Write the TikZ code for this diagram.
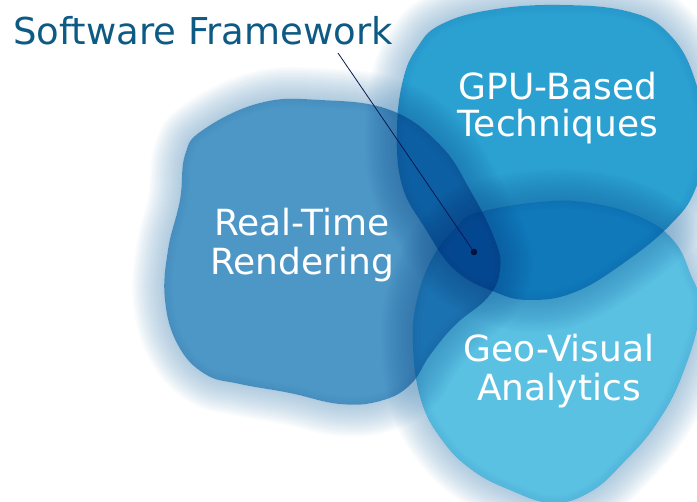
\documentclass[tikz,border=0pt]{standalone}
\usepackage{fontspec}
\setmainfont{DejaVu Sans}
\definecolor{rtcol}{RGB}{77,151,198}
\definecolor{gpucol}{RGB}{43,161,210}
\definecolor{geocol}{RGB}{91,193,227}
\definecolor{glowcol}{RGB}{95,150,190}
\definecolor{titlecol}{RGB}{13,90,133}
\definecolor{leadcol}{RGB}{10,25,80}
\tikzset{
  rtpath/.style={insert path={plot[smooth cycle,tension=0.7] coordinates {
    (203,130) (260,103) (320,100) (390,110) (440,145) (470,190) (495,240)
    (500,270) (488,297) (455,325) (430,355) (410,385) (380,401) (340,404)
    (290,393) (240,384) (205,374) (178,345) (165,300) (168,250) (180,200)
    (185,155)}}},
  gpupath/.style={insert path={plot[smooth cycle,tension=0.7] coordinates {
    (440,25) (490,10) (560,5) (630,12) (670,35) (695,80) (705,140) (695,190)
    (670,225) (625,262) (575,292) (530,300) (495,292) (455,270) (425,228)
    (402,185) (397,130) (403,80) (417,48)}}},
  geopath/.style={insert path={plot[smooth cycle,tension=0.7] coordinates {
    (477,213) (540,202) (590,203) (640,217) (673,240) (690,273) (700,310)
    (683,373) (657,423) (623,463) (590,492) (552,503) (510,490) (472,470)
    (442,440) (421,400) (413,345) (417,300) (433,257) (457,227)}}},
  % a large frame wound against the regions, so that clipping keeps the outside
  outside/.style={insert path={(-300,-300) -- (-300,900) -- (1100,900)
    -- (1100,-300) -- cycle}},
  glow/.style={draw=glowcol, line width=#1, opacity=0.038, line join=round},
  rim/.style={draw=glowcol, line width=#1, opacity=0.03, line join=round},
  blob/.style={fill=#1, blend mode=multiply},
  label/.style={text=white, align=center, inner sep=0pt,
    font=\fontsize{36}{39}\selectfont},
}
\begin{document}
\begin{tikzpicture}[x=1pt,y=-1pt]
\useasboundingbox (0,0) rectangle (697,502);
% soft halo outside each region, faint rim just inside it
\foreach \shape in {rtpath,gpupath,geopath} {
  \begin{scope}
    \path[clip, outside, \shape];
    \foreach \w in {4,8,...,64} {
      \path[glow=\w pt, \shape];
    }
  \end{scope}
  \begin{scope}
    \path[clip, \shape];
    \foreach \w in {4,8,...,16} {
      \path[rim=\w pt, \shape];
    }
  \end{scope}
}
% the three regions, darkening where they overlap
\path[blob=rtcol, rtpath];
\path[blob=gpucol, gpupath];
\path[blob=geocol, geopath];
% region labels
\node[label] (rt) at (302,245) {Real-Time\\Rendering};
\node[label, font=\fontsize{36}{37}\selectfont] (gpu) at (558,108.5) {GPU-Based\\Techniques};
\node[label] (geo) at (559,371) {Geo-Visual\\Analytics};
% title with leader to the common intersection
\node[anchor=base west, inner sep=0pt, text=titlecol,
      font=\fontsize{37}{40}\selectfont] (sw) at (13,45) {Software Framework};
\coordinate (lead) at (338,53);
\node[circle, fill=leadcol!70!black, inner sep=0pt, minimum size=6.5pt] (dot) at (474,252) {};
\draw[leadcol, line width=0.8pt] (lead) -- (dot.center);
\end{tikzpicture}
\end{document}
